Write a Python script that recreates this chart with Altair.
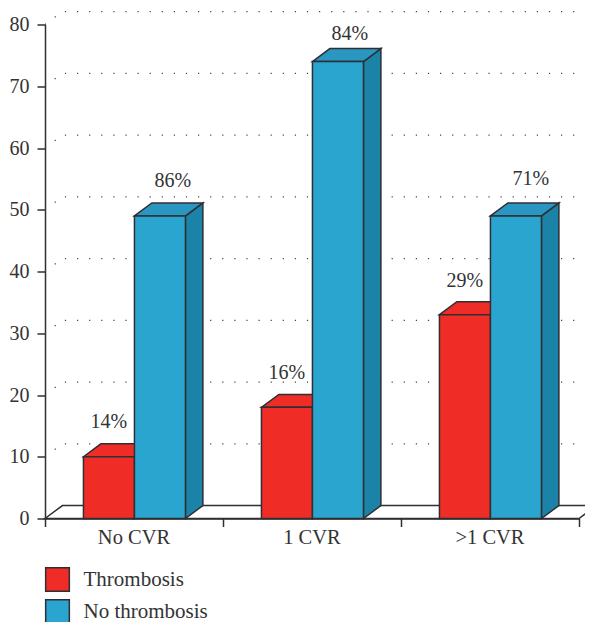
import altair as alt
import pandas as pd

categories = ["No CVR", "1 CVR", ">1 CVR"]
series = ["Thrombosis", "No thrombosis"]
thrombosis = [10, 18, 33]
no_thrombosis = [49, 74, 49]
pct_thrombosis = ["14%", "16%", "29%"]
pct_no_thrombosis = ["86%", "84%", "71%"]
y_ticks = [0, 10, 20, 30, 40, 50, 60, 70, 80]
x_ticks = [0, 1, 2, 3]

INK = "#2f2f33"
TEXT = "#333333"
RED = "#ef2d26"
BLUE = "#2aa5d0"
BLUE_TOP = "#2a97c3"
BLUE_SIDE = "#1b83a8"
FONT = "Liberation Serif"

# oblique projection depth, in axis units
DX = 0.098
DY = 2.1
BAR_W = 0.2865
GROUP_PAD = 0.216
GRID_END = 3.017

X = alt.Scale(domain=[0, 3], nice=False, zero=False)
Y = alt.Scale(domain=[0, 80], nice=False, zero=False)
x_enc = alt.X("x:Q", scale=X, title=None,
              axis=alt.Axis(values=x_ticks, labels=False, grid=False, tickSize=8, tickWidth=1.5,
                            tickColor=INK, domainColor=INK, domainWidth=1.5))
y_enc = alt.Y("y:Q", scale=Y, title=None,
              axis=alt.Axis(values=y_ticks, grid=False, tickSize=8, tickWidth=1.5, tickColor=INK,
                            domainColor=INK, domainWidth=1.5, labelFont=FONT, labelFontSize=20,
                            labelColor=TEXT, labelPadding=8))

# dotted back-wall lines
grid_rows = []
for t in y_ticks[1:]:
    grid_rows += [dict(g=t, i=0, x=0, y=t), dict(g=t, i=1, x=DX, y=t + DY), dict(g=t, i=2, x=GRID_END, y=t + DY)]
grid = alt.Chart(pd.DataFrame(grid_rows)).mark_line(
    color="#444444", strokeWidth=1.2, strokeDash=[1.2, 10.9]
).encode(x=x_enc, y=y_enc, order="i:Q", detail="g:N")

# floor: parallelogram behind the bars
floor_df = pd.DataFrame([
    dict(x=0, y=0, y2=0),
    dict(x=DX, y=DY, y2=0),
    dict(x=3, y=DY, y2=0),
    dict(x=3 + DX, y=DY, y2=DY),
])
floor = alt.Chart(floor_df).mark_area(fill="white", stroke=INK, strokeWidth=1.5, line=False).encode(
    x=x_enc, y=y_enc, y2="y2:Q")


def top_face(name, x0, v):
    x1 = x0 + BAR_W
    return [
        dict(id=name, x=x0, y=v, y2=v),
        dict(id=name, x=x0 + DX, y=v + DY, y2=v),
        dict(id=name, x=x1, y=v + DY, y2=v),
        dict(id=name, x=x1 + DX, y=v + DY, y2=v + DY),
    ]


def side_face(name, x0, v):
    x1 = x0 + BAR_W
    return [
        dict(id=name, x=x1, y=v, y2=0),
        dict(id=name, x=x1 + DX, y=v + DY, y2=DY),
    ]


layers = [grid, floor]
for s_i, (name, vals) in enumerate(zip(series, [thrombosis, no_thrombosis])):
    fronts, tops, sides = [], [], []
    for c_i, v in enumerate(vals):
        x0 = c_i + GROUP_PAD + s_i * BAR_W
        fronts.append(dict(x=x0, x2=x0 + BAR_W, y=v, y2=0, series=name))
        tops += top_face(f"{name}{c_i}", x0, v)
        sides += side_face(f"{name}{c_i}", x0, v)
    top_col = RED if s_i == 0 else BLUE_TOP
    side_col = RED if s_i == 0 else BLUE_SIDE
    layers.append(alt.Chart(pd.DataFrame(sides)).mark_area(fill=side_col, stroke=INK, strokeWidth=1.5).encode(
        x=x_enc, y=y_enc, y2="y2:Q", detail="id:N"))
    layers.append(alt.Chart(pd.DataFrame(tops)).mark_area(fill=top_col, stroke=INK, strokeWidth=1.5).encode(
        x=x_enc, y=y_enc, y2="y2:Q", detail="id:N"))
    layers.append(alt.Chart(pd.DataFrame(fronts)).mark_bar(stroke=INK, strokeWidth=1.5).encode(
        x=x_enc, x2="x2:Q", y=y_enc, y2="y2:Q",
        color=alt.Color("series:N", scale=alt.Scale(domain=series, range=[RED, BLUE]),
                        legend=alt.Legend(title=None, orient="none", legendX=-0.5, legendY=542,
                                          symbolType="square", symbolSize=560, symbolStrokeColor=INK,
                                          symbolStrokeWidth=1.5, symbolOpacity=1, labelFont=FONT, labelFontSize=21,
                                          labelColor=TEXT, labelOffset=13, rowPadding=2))))

# percentage labels: (dx, dy) nudges in pixels
for pcts, vals, s_i, nudges in [
    (pct_thrombosis, thrombosis, 0, [(0, -35), (0, -34), (0, -34)]),
    (pct_no_thrombosis, no_thrombosis, 1, [(13, -35), (12, -28), (15, -37)]),
]:
    for c_i, (p, v, (dx, dy)) in enumerate(zip(pcts, vals, nudges)):
        x0 = c_i + GROUP_PAD + s_i * BAR_W + BAR_W / 2
        layers.append(alt.Chart(pd.DataFrame([dict(x=x0, y=v, t=p)])).mark_text(
            font=FONT, fontSize=20, color=TEXT, dx=dx, dy=dy, baseline="middle", align="center"
        ).encode(x=x_enc, y=y_enc, text="t:N"))

# category labels under the axis
cat_df = pd.DataFrame([dict(x=i + 0.5, y=0, t=c) for i, c in enumerate(categories)])
layers.append(alt.Chart(cat_df).mark_text(
    font=FONT, fontSize=20.5, color=TEXT, dy=19, baseline="middle", align="center"
).encode(x=x_enc, y=y_enc, text="t:N"))

chart = alt.layer(*layers).properties(
    width=534, height=494,
    padding={"left": 37, "top": 16.5, "right": 6, "bottom": 103.5},
    autosize=alt.AutoSizeParams(type="none"),
).configure_view(stroke=None)

chart.save("out.html", embed_options={"renderer": "svg", "actions": False})
